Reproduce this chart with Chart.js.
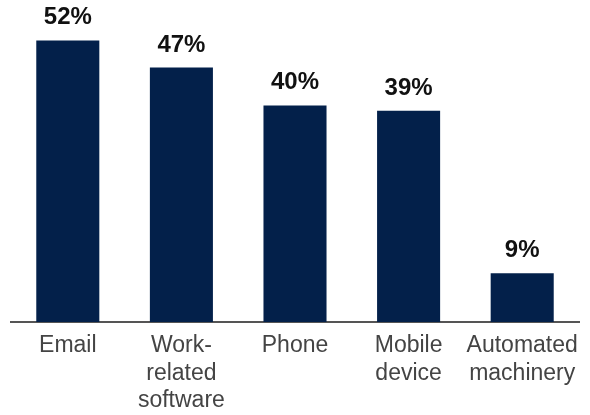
<!DOCTYPE html>
<html>
<head>
<meta charset="utf-8">
<script src="https://cdn.jsdelivr.net/npm/chart.js@4/dist/chart.umd.min.js"></script>
<style>
  html, body { margin: 0; padding: 0; background: #fff; }
  #wrap { width: 590px; height: 415px; }
</style>
</head>
<body>
<div id="wrap"><canvas id="toolsChart"></canvas></div>
<script>
// categories and values
const categories = [['Email'], ['Work-', 'related', 'software'], ['Phone'], ['Mobile', 'device'], ['Automated', 'machinery']];
const shares = [52, 47, 40, 39, 9];

// draw the percentage over each bar
const valueLabels = {
    id: 'valueLabels',
    afterDatasetsDraw(chart) {
        const ctx = chart.ctx;
        const meta = chart.getDatasetMeta(0);
        ctx.save();
        ctx.font = 'bold 24px "Liberation Sans", Arial, sans-serif';
        ctx.fillStyle = '#111111';
        ctx.textAlign = 'center';
        ctx.textBaseline = 'alphabetic';
        meta.data.forEach((bar, i) => {
            ctx.fillText(shares[i] + '%', bar.x, bar.y - 16);
        });
        ctx.restore();
    }
};

const ctx = document.getElementById('toolsChart').getContext('2d');
const toolsChart = new Chart(ctx, {
    type: 'bar',
    data: {
        labels: categories,
        datasets: [{
            data: shares,
            backgroundColor: '#03204a',
            borderWidth: 0,
            categoryPercentage: 1.0,
            barPercentage: 0.555
        }]
    },
    options: {
        responsive: true,
        maintainAspectRatio: false,
        animation: false,
        layout: { padding: { top: 8, left: 11, right: 11, bottom: 0 } },
        plugins: {
            legend: { display: false },
            tooltip: { enabled: false }
        },
        scales: {
            x: {
                grid: { display: false, drawTicks: false },
                border: { display: true, color: '#555555', width: 2 },
                ticks: {
                    color: '#444444',
                    padding: 10,
                    maxRotation: 0,
                    autoSkip: false,
                    font: { family: '"Liberation Sans", Arial, sans-serif', size: 23, lineHeight: 1.2 }
                },
                afterFit(scale) { scale.height = 93; }
            },
            y: {
                display: false,
                min: 0,
                max: 58
            }
        }
    },
    plugins: [valueLabels]
});
</script>
</body>
</html>
